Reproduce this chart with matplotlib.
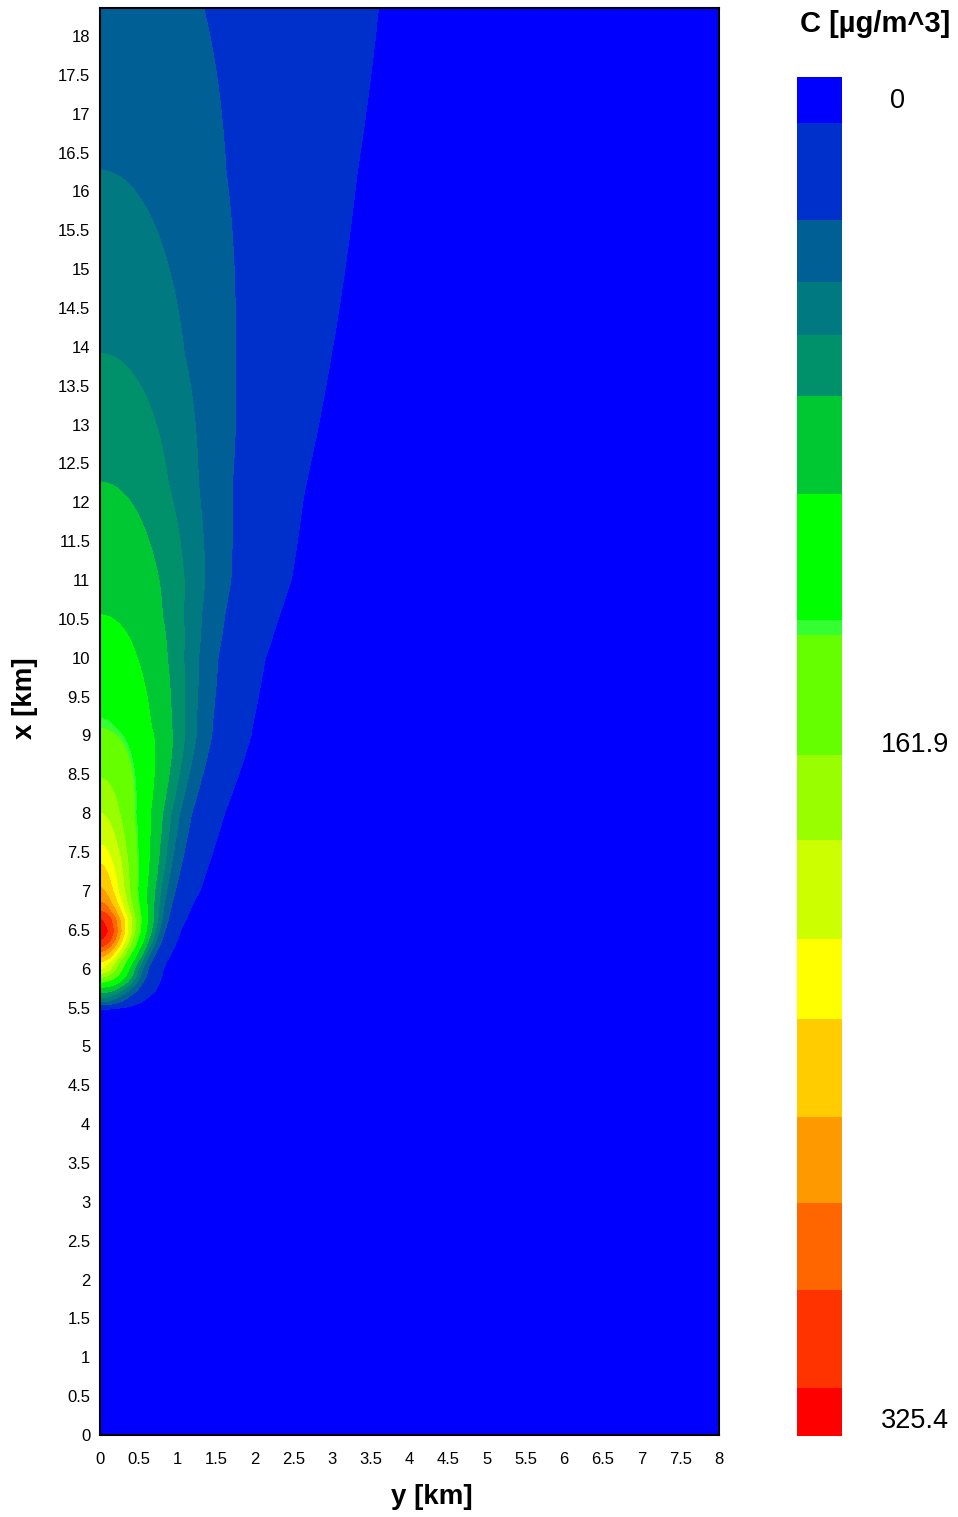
import numpy as np
import matplotlib
matplotlib.use("Agg")
import matplotlib.pyplot as plt
import matplotlib.transforms as mtrans

# Contour levels of ground-level concentration (µg/m^3) and their fill colours
levels = [0.0, 10.9, 34.24, 49.09, 61.78, 76.38, 99.85, 130.02, 133.61, 162.34,
          182.70, 206.40, 225.56, 249.02, 269.61, 290.44, 313.91, 325.4]
band_colors = ["#0000FF", "#0030CC", "#006096", "#007A80", "#00916A", "#00C832",
               "#00FF00", "#33FF33", "#66FF00", "#99FF00", "#CCFF00", "#FFFF00",
               "#FFCC00", "#FF9900", "#FF6600", "#FF3300", "#FF0000"]

# Plume centreline concentration along the downwind axis (x in km)
center_x = [5.38, 5.48, 5.57, 5.69, 5.76, 5.89, 6.00, 6.09, 6.15, 6.22, 6.28, 6.37,
            6.48, 6.64, 6.74, 6.86, 7.05, 7.35, 7.60, 8.00, 8.45, 9.09, 9.22,
            10.55, 12.26, 13.91, 16.27, 18.40]
center_c = [4.0, 10.9, 49.1, 76.4, 99.9, 162.3, 206.4, 225.6, 249.0, 269.6, 290.4, 313.9,
            325.4, 313.9, 290.4, 269.6, 249.0, 225.6, 206.4, 182.7, 162.3, 133.6, 130.0,
            99.9, 76.4, 61.8, 49.1, 41.0]

# Crosswind spread of the plume: scale length (km) and profile exponent
width_x = [5.40, 5.50, 5.60, 5.70, 6.00, 6.50, 7.00, 8.00, 9.00, 10.0, 11.0, 12.0,
           14.0, 16.0, 18.4]
width_s = [0.35, 0.40, 0.45, 0.50, 0.45, 0.55, 0.63, 0.875, 1.226, 1.40, 1.686, 1.855,
           2.29, 2.66, 3.13]
shape_p = [2.0, 2.0, 2.0, 2.0, 1.8, 1.9, 1.6, 1.7, 2.0, 2.0, 2.0, 2.0, 2.0, 2.0, 2.0]

x_ticks = [i * 0.5 for i in range(17)]
y_ticks = [i * 0.5 for i in range(37)]
cbar_labels = ["0", "161.9", "325.4"]
cbar_label_values = [0.0, 161.9, 325.4]

# ---- concentration field ----
y_km = np.linspace(0.0, 8.0, 641)
x_km = np.linspace(0.0, 18.4, 1473)
Y, X = np.meshgrid(y_km, x_km)
c0 = np.interp(x_km, center_x, center_c, left=0.0, right=center_c[-1])
s = np.interp(x_km, width_x, width_s)
p = np.interp(x_km, width_x, shape_p)
C = c0[:, None] * np.exp(-(Y / s[:, None]) ** p[:, None])
C = np.clip(C, 0.0, levels[-1])

plt.rcParams["font.family"] = ["Liberation Sans", "DejaVu Sans"]

W, H = 958, 1517
fig = plt.figure(figsize=(W / 100, H / 100), dpi=100)

def frac(x0, y0, x1, y1):
    return [x0 / W, 1 - y1 / H, (x1 - x0) / W, (y1 - y0) / H]

ax = fig.add_axes(frac(100, 8, 719, 1435))
cf = ax.contourf(Y, X, C, levels=levels, colors=band_colors, antialiased=False)
ax.set_facecolor("#0000FF")
ax.set_xlim(0, 8.0)
ax.set_ylim(0, 18.36)
ax.set_xticks(x_ticks)
ax.set_xticklabels([f"{v:g}" for v in x_ticks])
ax.set_yticks(y_ticks)
ax.set_yticklabels([f"{v:g}" for v in y_ticks])
ax.tick_params(length=0, labelsize=12, colors="black")
ax.tick_params(axis="x", pad=12)
ax.tick_params(axis="y", pad=7)
for sp in ax.spines.values():
    sp.set_linewidth(1.5)
    sp.set_color("black")

ax.set_xlabel("y [km]", fontsize=20, fontweight="bold")
ax.set_ylabel("x [km]", fontsize=20, fontweight="bold")
ax.xaxis.set_label_coords((432 - 100) / 619, (1435 - 1497) / 1427)
ax.yaxis.set_label_coords((25 - 100) / 619, (1435 - 698) / 1427)
ax.xaxis.label.set_va("center")
ax.yaxis.label.set_va("center")

# ---- colour bar ----
cax = fig.add_axes(frac(797, 77, 842, 1436))
cbar = fig.colorbar(cf, cax=cax, spacing="proportional")
cbar.outline.set_visible(False)
cax.invert_yaxis()
cbar.set_ticks(cbar_label_values, labels=cbar_labels)
cax.tick_params(length=0, labelsize=19.5, pad=28)
shifts = [(9, -21), (0, 11), (0, 18)]
for lab, (dx, dy) in zip(cax.get_yticklabels(), shifts):
    lab.set_transform(lab.get_transform() +
                      mtrans.ScaledTranslation(dx / 100, dy / 100, fig.dpi_scale_trans))

fig.text(875 / W, 1 - 24 / H, "C [µg/m^3]", fontsize=21, fontweight="bold",
         ha="center", va="center")

fig.savefig("out.png", dpi=100, facecolor="white")
